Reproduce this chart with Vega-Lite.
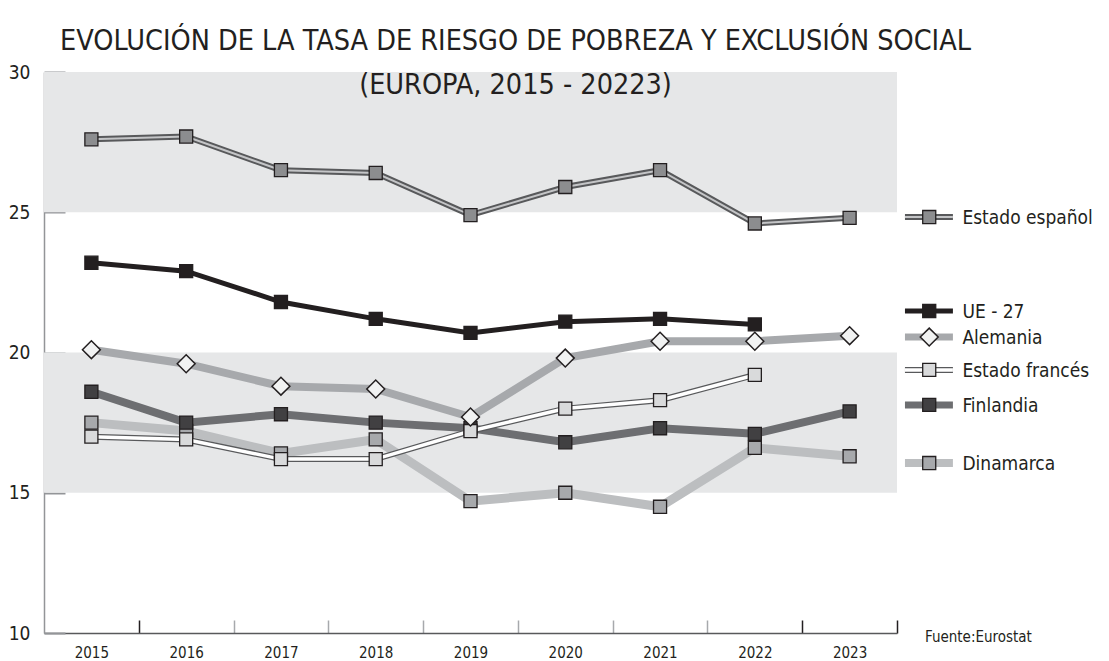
{
  "$schema": "https://vega.github.io/schema/vega-lite/v6.json",
  "width": 853,
  "height": 561,
  "autosize": "none",
  "padding": {"left": 44, "top": 72, "right": 212, "bottom": 28},
  "background": "white",
  "config": {"font": "DejaVu Sans Condensed, Roboto, sans-serif", "view": {"stroke": null}, "axis": {"grid": false}},
  "title": {
    "text": ["EVOLUCIÓN DE LA TASA DE RIESGO DE POBREZA Y EXCLUSIÓN SOCIAL", "(EUROPA, 2015 - 20223)"],
    "anchor": "middle",
    "fontSize": 28.5,
    "fontWeight": 300,
    "color": "#231f20",
    "lineHeight": 44,
    "offset": -36,
    "dx": 45
  },
  "datasets": {
    "series": [
      {"series": "Dinamarca", "year": 2015, "value": 17.5},
      {"series": "Dinamarca", "year": 2016, "value": 17.2},
      {"series": "Dinamarca", "year": 2017, "value": 16.4},
      {"series": "Dinamarca", "year": 2018, "value": 16.9},
      {"series": "Dinamarca", "year": 2019, "value": 14.7},
      {"series": "Dinamarca", "year": 2020, "value": 15.0},
      {"series": "Dinamarca", "year": 2021, "value": 14.5},
      {"series": "Dinamarca", "year": 2022, "value": 16.6},
      {"series": "Dinamarca", "year": 2023, "value": 16.3},
      {"series": "Finlandia", "year": 2015, "value": 18.6},
      {"series": "Finlandia", "year": 2016, "value": 17.5},
      {"series": "Finlandia", "year": 2017, "value": 17.8},
      {"series": "Finlandia", "year": 2018, "value": 17.5},
      {"series": "Finlandia", "year": 2019, "value": 17.3},
      {"series": "Finlandia", "year": 2020, "value": 16.8},
      {"series": "Finlandia", "year": 2021, "value": 17.3},
      {"series": "Finlandia", "year": 2022, "value": 17.1},
      {"series": "Finlandia", "year": 2023, "value": 17.9},
      {"series": "Alemania", "year": 2015, "value": 20.1},
      {"series": "Alemania", "year": 2016, "value": 19.6},
      {"series": "Alemania", "year": 2017, "value": 18.8},
      {"series": "Alemania", "year": 2018, "value": 18.7},
      {"series": "Alemania", "year": 2019, "value": 17.7},
      {"series": "Alemania", "year": 2020, "value": 19.8},
      {"series": "Alemania", "year": 2021, "value": 20.4},
      {"series": "Alemania", "year": 2022, "value": 20.4},
      {"series": "Alemania", "year": 2023, "value": 20.6},
      {"series": "UE - 27", "year": 2015, "value": 23.2},
      {"series": "UE - 27", "year": 2016, "value": 22.9},
      {"series": "UE - 27", "year": 2017, "value": 21.8},
      {"series": "UE - 27", "year": 2018, "value": 21.2},
      {"series": "UE - 27", "year": 2019, "value": 20.7},
      {"series": "UE - 27", "year": 2020, "value": 21.1},
      {"series": "UE - 27", "year": 2021, "value": 21.2},
      {"series": "UE - 27", "year": 2022, "value": 21.0},
      {"series": "Estado español", "year": 2015, "value": 27.6},
      {"series": "Estado español", "year": 2016, "value": 27.7},
      {"series": "Estado español", "year": 2017, "value": 26.5},
      {"series": "Estado español", "year": 2018, "value": 26.4},
      {"series": "Estado español", "year": 2019, "value": 24.9},
      {"series": "Estado español", "year": 2020, "value": 25.9},
      {"series": "Estado español", "year": 2021, "value": 26.5},
      {"series": "Estado español", "year": 2022, "value": 24.6},
      {"series": "Estado español", "year": 2023, "value": 24.8},
      {"series": "Estado francés", "year": 2015, "value": 17.0},
      {"series": "Estado francés", "year": 2016, "value": 16.9},
      {"series": "Estado francés", "year": 2017, "value": 16.2},
      {"series": "Estado francés", "year": 2018, "value": 16.2},
      {"series": "Estado francés", "year": 2019, "value": 17.2},
      {"series": "Estado francés", "year": 2020, "value": 18.0},
      {"series": "Estado francés", "year": 2021, "value": 18.3},
      {"series": "Estado francés", "year": 2022, "value": 19.2}
    ],
    "legend": [
      {"series": "Estado español", "pos": 24.83},
      {"series": "UE - 27", "pos": 21.48},
      {"series": "Alemania", "pos": 20.55},
      {"series": "Estado francés", "pos": 19.38},
      {"series": "Finlandia", "pos": 18.13},
      {"series": "Dinamarca", "pos": 16.06}
    ],
    "bands": [
      {"lo": 15, "hi": 20},
      {"lo": 25, "hi": 30}
    ],
    "source": [{"text": "Fuente:Eurostat"}]
  },
  "layer": [
    {
      "data": {"name": "bands"},
      "mark": {"type": "rect", "color": "#e6e7e8"},
      "encoding": {
        "y": {"field": "lo", "type": "quantitative", "title": null, "scale": {"domain": [10, 30], "nice": false, "zero": false}},
        "y2": {"field": "hi"}
      }
    },
    {
      "data": {"name": "series"},
      "mark": {"type": "line"},
      "encoding": {
        "x": {
          "field": "year", "type": "quantitative", "title": null,
          "scale": {"domain": [2014.5, 2023.5], "nice": false, "zero": false},
          "axis": {
            "title": null,
            "values": [2015.5, 2016.5, 2017.5, 2018.5, 2019.5, 2020.5, 2021.5, 2022.5, 2023.5],
            "labelExpr": "format(datum.value - 0.5, 'd')",
            "labelOffset": -47.4,
            "labelFlush": false,
            "labelOverlap": false,
            "labelFontSize": 15,
            "labelFontWeight": "normal",
            "labelColor": "#231f20",
            "labelPadding": 25,
            "tickSize": -13,
            "tickWidth": 1.5,
            "tickColor": {"condition": {"test": "datum.value == 2015.5 || datum.value >= 2022.5", "value": "#231f20"}, "value": "#a7a9ac"},
            "domainColor": "#58595b",
            "domainWidth": 1.5
          }
        },
        "y": {
          "field": "value", "type": "quantitative", "title": null,
          "scale": {"domain": [10, 30], "nice": false, "zero": false},
          "axis": {
            "title": null,
            "values": [10, 15, 20, 25, 30],
            "labelFontSize": 19,
            "labelFontWeight": 300,
            "labelColor": "#231f20",
            "labelPadding": 35,
            "tickSize": -21,
            "tickWidth": 2,
            "tickColor": "#939598",
            "domainColor": "#939598",
            "domainWidth": 1.5
          }
        },
        "color": {
          "field": "series", "type": "nominal", "legend": null,
          "scale": {
            "domain": ["Estado español", "UE - 27", "Alemania", "Estado francés", "Finlandia", "Dinamarca"],
            "range": ["#58595b", "#231f20", "#a7a9ac", "#58595b", "#6d6e71", "#bcbec0"]
          }
        },
        "strokeWidth": {
          "condition": [
            {"test": "datum.series === 'Estado español'", "value": 6},
            {"test": "datum.series === 'UE - 27'", "value": 5},
            {"test": "datum.series === 'Estado francés'", "value": 6},
            {"test": "datum.series === 'Dinamarca'", "value": 9}
          ],
          "value": 8
        }
      }
    },
    {
      "data": {"name": "series"},
      "transform": [{"filter": "datum.series === 'Estado español' || datum.series === 'Estado francés'"}],
      "mark": {"type": "line"},
      "encoding": {
        "x": {"field": "year", "type": "quantitative", "title": null},
        "y": {"field": "value", "type": "quantitative", "title": null},
        "detail": {"field": "series"},
        "color": {"condition": {"test": "datum.series === 'Estado español'", "value": "#c4c5c7"}, "value": "#ffffff"},
        "strokeWidth": {"condition": {"test": "datum.series === 'Estado español'", "value": 2}, "value": 3.5}
      }
    },
    {
      "data": {"name": "series"},
      "transform": [{"filter": "datum.series !== 'Alemania'"}],
      "mark": {"type": "point", "shape": "square", "filled": true, "opacity": 1, "size": 170, "stroke": "#231f20", "strokeWidth": 1.3},
      "encoding": {
        "x": {"field": "year", "type": "quantitative", "title": null},
        "y": {"field": "value", "type": "quantitative", "title": null},
        "fill": {
          "field": "series", "type": "nominal", "legend": null,
          "scale": {
            "domain": ["Estado español", "UE - 27", "Alemania", "Estado francés", "Finlandia", "Dinamarca"],
            "range": ["#8c8d8f", "#231f20", "#f1f2f2", "#d9dadb", "#414042", "#a7a9ac"]
          }
        }
      }
    },
    {
      "data": {"name": "series"},
      "transform": [{"filter": "datum.series === 'Alemania'"}],
      "mark": {"type": "point", "shape": "diamond", "filled": true, "opacity": 1, "size": 320, "fill": "#f1f2f2", "stroke": "#231f20", "strokeWidth": 1.5},
      "encoding": {
        "x": {"field": "year", "type": "quantitative", "title": null},
        "y": {"field": "value", "type": "quantitative", "title": null}
      }
    },
    {
      "data": {"name": "legend"},
      "mark": {"type": "rule"},
      "encoding": {
        "x": {"datum": 2023.584, "type": "quantitative", "title": null},
        "x2": {"datum": 2024.09},
        "y": {"field": "pos", "type": "quantitative", "title": null},
        "color": {"field": "series", "type": "nominal", "legend": null},
        "strokeWidth": {
          "condition": [
            {"test": "datum.series === 'Estado español'", "value": 6},
            {"test": "datum.series === 'UE - 27'", "value": 5},
            {"test": "datum.series === 'Estado francés'", "value": 6},
            {"test": "datum.series === 'Dinamarca'", "value": 8}
          ],
          "value": 7
        }
      }
    },
    {
      "data": {"name": "legend"},
      "transform": [{"filter": "datum.series === 'Estado español' || datum.series === 'Estado francés'"}],
      "mark": {"type": "rule"},
      "encoding": {
        "x": {"datum": 2023.584, "type": "quantitative", "title": null},
        "x2": {"datum": 2024.09},
        "y": {"field": "pos", "type": "quantitative", "title": null},
        "color": {"condition": {"test": "datum.series === 'Estado español'", "value": "#c4c5c7"}, "value": "#ffffff"},
        "strokeWidth": {"condition": {"test": "datum.series === 'Estado español'", "value": 2}, "value": 3.5}
      }
    },
    {
      "data": {"name": "legend"},
      "transform": [{"filter": "datum.series !== 'Alemania'"}],
      "mark": {"type": "point", "shape": "square", "filled": true, "opacity": 1, "size": 170, "stroke": "#231f20", "strokeWidth": 1.3},
      "encoding": {
        "x": {"datum": 2023.84, "type": "quantitative", "title": null},
        "y": {"field": "pos", "type": "quantitative", "title": null},
        "fill": {"field": "series", "type": "nominal", "legend": null}
      }
    },
    {
      "data": {"name": "legend"},
      "transform": [{"filter": "datum.series === 'Alemania'"}],
      "mark": {"type": "point", "shape": "diamond", "filled": true, "opacity": 1, "size": 320, "fill": "#f1f2f2", "stroke": "#231f20", "strokeWidth": 1.5},
      "encoding": {
        "x": {"datum": 2023.84, "type": "quantitative", "title": null},
        "y": {"field": "pos", "type": "quantitative", "title": null}
      }
    },
    {
      "data": {"name": "legend"},
      "mark": {"type": "text", "align": "left", "baseline": "middle", "fontSize": 19, "fontWeight": 300, "color": "#231f20", "dy": 1},
      "encoding": {
        "x": {"datum": 2024.19, "type": "quantitative", "title": null},
        "y": {"field": "pos", "type": "quantitative", "title": null},
        "text": {"field": "series"}
      }
    },
    {
      "data": {"name": "source"},
      "mark": {"type": "text", "align": "left", "baseline": "middle", "fontSize": 15, "fontWeight": 300, "color": "#231f20", "dy": 4},
      "encoding": {
        "x": {"datum": 2023.795, "type": "quantitative", "title": null},
        "y": {"datum": 10, "type": "quantitative", "title": null},
        "text": {"field": "text"}
      }
    }
  ]
}
